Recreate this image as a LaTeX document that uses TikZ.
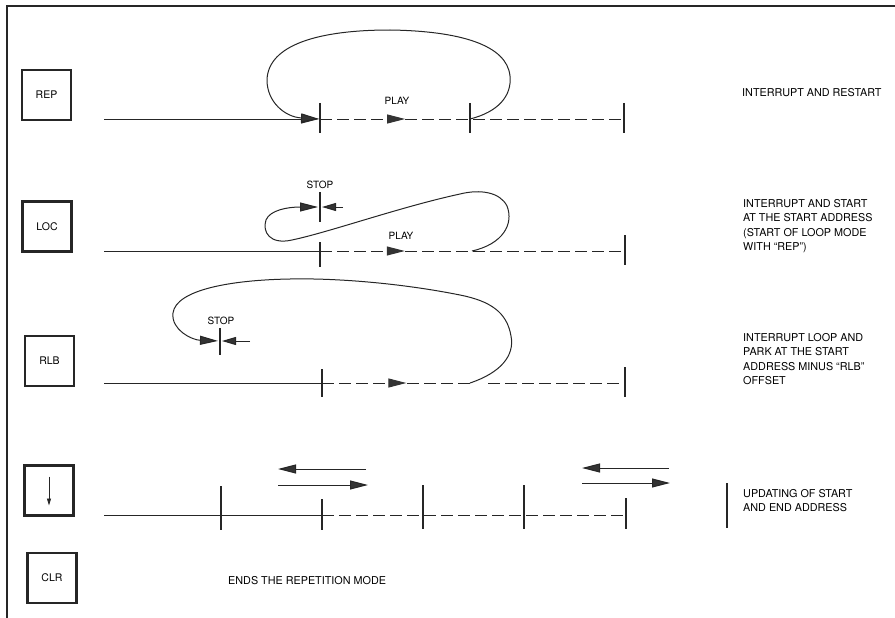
\documentclass[tikz,border=0pt]{standalone}
\usepackage{fontspec}
\setmainfont{TeX Gyre Heros}
\usetikzlibrary{arrows.meta,decorations.markings,calc}
\begin{document}
\begin{tikzpicture}[x=1pt,y=-1pt,
  ink/.style={draw=black!85},
  frameline/.style={ink, line width=1.1pt},
  btn/.style={ink, line width=2.4pt, minimum width=49pt, minimum height=50pt, inner sep=0pt,
    font=\fontsize{10.5}{12}\selectfont},
  ln/.style={ink, line width=1pt},
  dsh/.style={ln, dash pattern=on 12pt off 5pt},
  tk/.style={ink, line width=1.4pt},
  tip/.style={-{Triangle[length=18pt,width=9pt,fill=black!80]}},
  midtip/.style={postaction={decorate}, decoration={markings,
      mark=at position #1 with {\arrow[solid,fill=black!80,draw=black!80]{Triangle[length=18pt,width=9pt]}}}},
  small/.style={font=\fontsize{10}{12}\selectfont, inner sep=0pt},
  desc/.style={font=\fontsize{10.8}{14.4}\selectfont, align=left, anchor=north west, inner sep=0pt}
]
\useasboundingbox (0,0) rectangle (895,618);
\draw[frameline] (895,6) -- (7,6) -- (7,618);

% buttons
\node[btn] (rep) at (46.5,95) {REP};
\node[btn] (loc) at (47,226.5) {LOC};
\node[btn] (rlb) at (49.5,361) {RLB};
\node[btn] (dn) at (49,490.5) {};
\node[btn] (clr) at (52,578) {CLR};
\coordinate (dnA) at ($(dn.center)+(0,-14)$);
\coordinate (dnB) at ($(dn.center)+(0,15)$);
\draw[ln, line width=0.8pt, -{Triangle[length=7pt,width=4pt]}] (dnA) -- (dnB);

% ---------- Row 1: REP ----------
\coordinate (a0) at (104,119);
\coordinate (a1) at (320,119);
\coordinate (a2) at (470,119);
\coordinate (a3) at (624,119);
\draw[ln, tip, shorten >=1pt] (a0) -- (a1);
\draw[dsh, midtip=0.28] (a1) -- (a3);
\draw[tk] ($(a1)+(0,-16)$) -- ($(a1)+(0,14)$);
\draw[tk] ($(a2)+(0,-16)$) -- ($(a2)+(0,14)$);
\draw[tk] ($(a3)+(0,-16)$) -- ($(a3)+(0,14)$);
\draw[ln, tip, shorten >=1pt] (a2) .. controls (498,112) and (512,96) .. (510,76)
   .. controls (507,45) and (460,31) .. (390,30)
   .. controls (318,30) and (268,45) .. (267,80)
   .. controls (267,102) and (285,117) .. (a1);
\node[small] (play1) at (397,101) {PLAY};
\node[desc] (t1) at (742,88) {INTERRUPT AND RESTART};

% ---------- Row 2: LOC ----------
\coordinate (b0) at (104,251);
\coordinate (b1) at (320,251);
\coordinate (b2) at (472,251);
\coordinate (b3) at (625,251);
\coordinate (bs) at (320,207);
\coordinate (bsr) at (343,207);
\draw[ln] (b0) -- (b1);
\draw[dsh, midtip=0.278] (b1) -- (b3);
\draw[tk] ($(b1)+(0,-9)$) -- ($(b1)+(0,16)$);
\draw[tk] ($(b3)+(0,-16)$) -- ($(b3)+(0,14)$);
\draw[tk] ($(bs)+(0,-15)$) -- ($(bs)+(0,15)$);
\draw[ln, tip, shorten >=2pt] (b2) .. controls (503,244) and (514,224) .. (507,206)
   .. controls (500,192) and (480,189) .. (460,194)
   .. controls (400,207) and (330,232) .. (292,240)
   .. controls (270,245) and (262,232) .. (266,220)
   .. controls (270,210) and (288,207) .. (bs);
\draw[ln, -{Triangle[length=14pt,width=8pt,fill=black!80]}, shorten >=2pt] (bsr) -- (bs);
\node[small] (stop2) at (320,185) {STOP};
\node[small] (play2) at (401,236) {PLAY};
\node[desc] (t2) at (743,199) {INTERRUPT AND START\\AT THE START ADDRESS\\(START OF LOOP MODE\\WITH “REP”)};

% ---------- Row 3: RLB ----------
\coordinate (c0) at (104,383);
\coordinate (c1) at (322,383);
\coordinate (c2) at (470,383);
\coordinate (c2b) at (488,383);
\coordinate (c3) at (625,383);
\coordinate (cs) at (220,341);
\coordinate (csr) at (250,341);
\draw[ln] (c0) -- (c1);
\draw[dsh, midtip=0.57] (c1) -- (c2);
\draw[dsh] (c2b) -- (c3);
\draw[tk] ($(c1)+(0,-14)$) -- ($(c1)+(0,14)$);
\draw[tk] ($(c3)+(0,-16)$) -- ($(c3)+(0,14)$);
\draw[tk] ($(cs)+(0,-13)$) -- ($(cs)+(0,14)$);
\draw[ln, tip, shorten >=2pt] (c2) .. controls (500,373) and (515,356) .. (511,336)
   .. controls (507,312) and (490,301) .. (460,295)
   .. controls (400,283) and (335,278) .. (290,279)
   .. controls (230,280) and (176,290) .. (173,313)
   .. controls (171,330) and (192,340) .. (cs);
\draw[ln, -{Triangle[length=14pt,width=8pt,fill=black!80]}, shorten >=2pt] (csr) -- (cs);
\node[small] (stop3) at (221,321) {STOP};
\node[desc] (t3) at (743,333) {INTERRUPT LOOP AND\\PARK AT THE START\\ADDRESS MINUS “RLB”\\OFFSET};

% ---------- Row 4: arrow key ----------
\coordinate (d0) at (104,515);
\coordinate (d1) at (221,515);
\coordinate (d2) at (322,515);
\coordinate (d3) at (423,515);
\coordinate (d4) at (524,515);
\coordinate (d5) at (626,515);
\draw[ln] (d0) -- (d2);
\draw[dsh] (d2) -- (d5);
\draw[tk] ($(d1)+(0,-29)$) -- ($(d1)+(0,15)$);
\draw[tk] ($(d2)+(0,-16)$) -- ($(d2)+(0,15)$);
\draw[tk] ($(d3)+(0,-30)$) -- ($(d3)+(0,14)$);
\draw[tk] ($(d4)+(0,-30)$) -- ($(d4)+(0,14)$);
\draw[tk] ($(d5)+(0,-17)$) -- ($(d5)+(0,14)$);
\coordinate (e1) at (366,469);
\coordinate (e2) at (278,469);
\coordinate (e3) at (278,485);
\coordinate (e4) at (368,485);
\coordinate (f1) at (669,468);
\coordinate (f2) at (582,468);
\coordinate (f3) at (582,483);
\coordinate (f4) at (670,483);
\draw[ln, tip] (e1) -- (e2);
\draw[ln, tip] (e3) -- (e4);
\draw[ln, tip] (f1) -- (f2);
\draw[ln, tip] (f3) -- (f4);
\coordinate (g1) at (727,483);
\coordinate (g2) at (727,528);
\draw[tk] (g1) -- (g2);
\node[desc] (t4) at (743,489) {UPDATING OF START\\AND END ADDRESS};

% ---------- CLR ----------
\node[desc] (t5) at (228,576) {ENDS THE REPETITION MODE};
\end{tikzpicture}
\end{document}
